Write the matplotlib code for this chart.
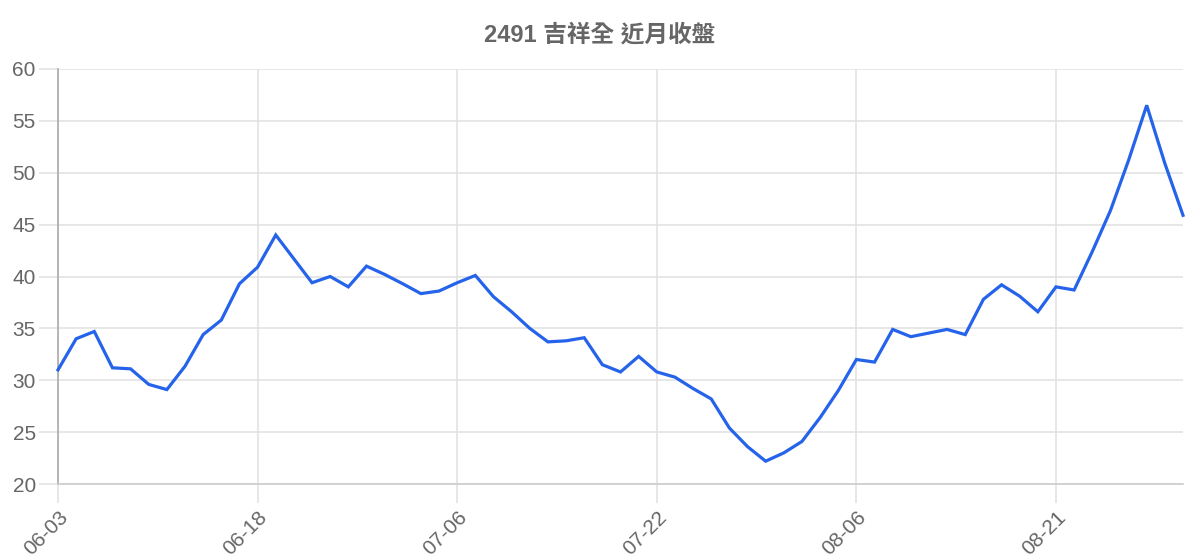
import matplotlib
matplotlib.use("Agg")
import matplotlib.pyplot as plt

title = "2491 吉祥全 近月收盤"
close = [31.0, 34.0, 34.7, 31.2, 31.1, 29.6, 29.1, 31.35, 34.4, 35.8,
         39.3, 40.9, 44.0, 41.7, 39.4, 40.0, 39.0, 41.0, 40.2, 39.3,
         38.35, 38.6, 39.4, 40.1, 38.05, 36.6, 35.0, 33.7, 33.8, 34.1,
         31.5, 30.8, 32.3, 30.8, 30.3, 29.2, 28.2, 25.4, 23.6, 22.2,
         23.0, 24.1, 26.4, 29.0, 32.0, 31.75, 34.9, 34.2, 34.55, 34.9,
         34.4, 37.8, 39.2, 38.1, 36.6, 39.0, 38.7, 42.4, 46.35, 51.2,
         56.5, 50.9, 45.9]
tick_pos = [0, 11, 22, 33, 44, 55]
tick_labels = ["06-03", "06-18", "07-06", "07-22", "08-06", "08-21"]
y_ticks = [20, 25, 30, 35, 40, 45, 50, 55, 60]

fam = ["Liberation Sans", "Noto Sans CJK TC", "DejaVu Sans"]
plt.rcParams["font.family"] = fam

fig = plt.figure(figsize=(12, 5.6), dpi=100)
ax = fig.add_axes([58/1200, 1-484/560, (1183-58)/1200, (484-69)/560])

x = list(range(len(close)))
ax.plot(x, close, color="#2563eb", lw=2.3, solid_joinstyle="miter", zorder=3, clip_on=False)

ax.set_xlim(0, len(close) - 1)
ax.set_ylim(20, 60)
ax.set_xticks(tick_pos)
ax.set_xticklabels(tick_labels, rotation=45, ha="right", va="top", rotation_mode="anchor")
ax.set_yticks(y_ticks)

grid_c = "#e0e0e0"
ax.grid(True, color=grid_c, lw=1.1)
ax.set_axisbelow(True)
ax.tick_params(axis="both", length=14, width=1.1, color=grid_c, labelcolor="#666666", labelsize=15)
ax.tick_params(axis="y", pad=2)
ax.tick_params(axis="x", pad=3)
for s in ["top", "right"]:
    ax.spines[s].set_visible(False)
ax.spines["left"].set_color("#aaaaaa")
ax.spines["left"].set_linewidth(1.2)
ax.spines["bottom"].set_color("#cccccc")
ax.spines["bottom"].set_linewidth(1.2)
ax.xaxis.get_major_ticks()[0].tick1line.set_color("#aaaaaa")

fig.text(600/1200, 1-35/560, title, ha="center", va="center", fontsize=17,
         fontweight="bold", color="#666666", family=fam)

fig.savefig("out.png", dpi=100, facecolor="white")
